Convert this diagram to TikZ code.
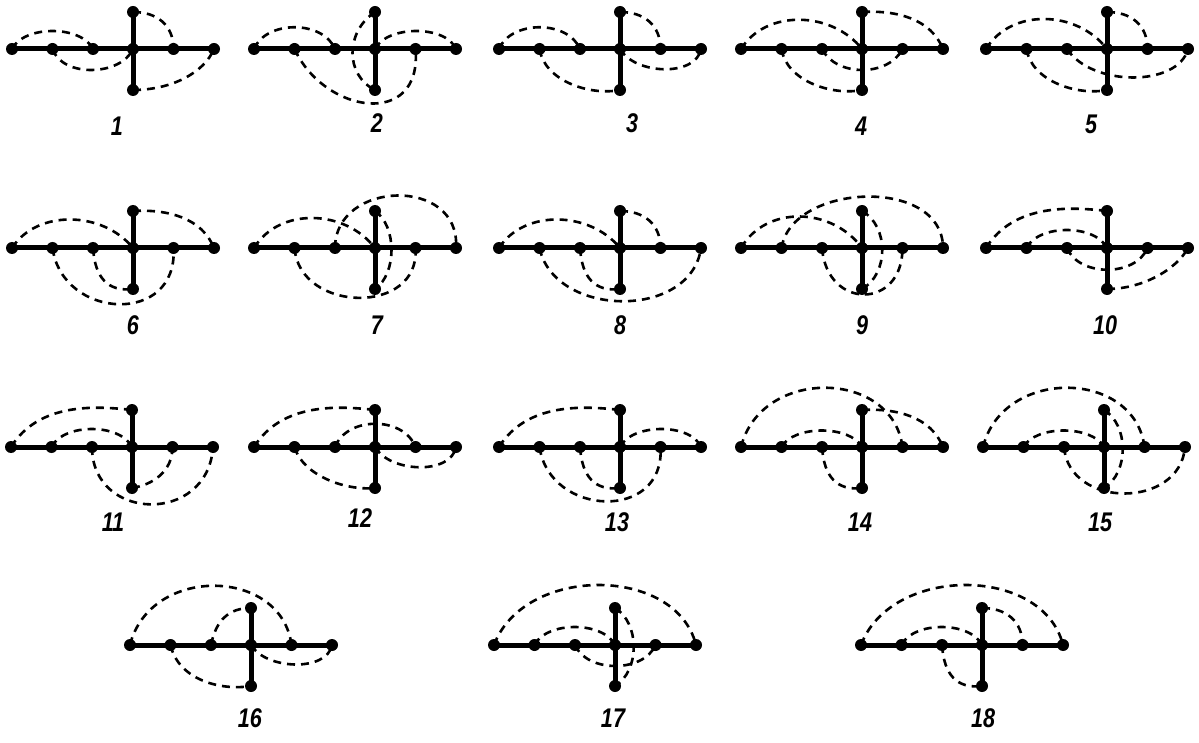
\documentclass[tikz,border=0pt]{standalone}
\usepackage{fontspec}
\newfontfamily\labfont[FakeStretch=0.8]{Liberation Sans}
\tikzset{
  tree/.style={line width=5pt},
  dsh/.style={line width=2.6pt, dash pattern=on 8pt off 6pt},
  dot/.style={circle, fill=black, inner sep=0pt, minimum size=12pt},
  lab/.style={font=\labfont\bfseries\itshape\fontsize{27}{27}\selectfont, inner sep=0pt},
}
\newcommand{\figpts}[3]{%
  \coordinate (A#1) at (#2-121,#3);
  \coordinate (B#1) at (#2-80.5,#3);
  \coordinate (C#1) at (#2-40,#3);
  \coordinate (O#1) at (#2,#3);
  \coordinate (D#1) at (#2+40.5,#3);
  \coordinate (E#1) at (#2+81,#3);
  \coordinate (T#1) at (#2,#3-37);
  \coordinate (U#1) at (#2,#3+41);
}
\newcommand{\figtree}[1]{%
  \draw[tree] (A#1) -- (E#1);
  \draw[tree] (T#1) -- (U#1);
  \foreach \v in {A,B,C,O,D,E,T,U}{\node[dot] (\v#1n) at (\v#1) {};}
}
\begin{document}
\begin{tikzpicture}[x=1pt,y=-1pt]
\useasboundingbox (0,0) rectangle (1199,743);
\fill[white] (0,0) rectangle (1199,743);
% ---------- positions
\figpts{1}{133}{49}
\figpts{2}{375}{49}
\figpts{3}{620}{49}
\figpts{4}{862}{49}
\figpts{5}{1107}{49}
\figpts{6}{133}{248}
\figpts{7}{375}{248}
\figpts{8}{620}{248}
\figpts{9}{862}{248}
\figpts{10}{1107}{248}
\figpts{11}{132}{447}
\figpts{12}{375}{447}
\figpts{13}{620}{447}
\figpts{14}{862}{447}
\figpts{15}{1104}{447}
\figpts{16}{251}{645}
\figpts{17}{615}{645}
\figpts{18}{982}{645}
% ---------- 1
\draw[dsh] (A1) .. controls +(12,-24) and +(-12,-24) .. (C1);
\draw[dsh] (B1) .. controls +(10,29) and +(-12,27) .. (O1);
\draw[dsh] (T1) .. controls +(24,0) and +(0,-24) .. (D1);
\draw[dsh] (U1) .. controls +(38,0) and +(-10,24) .. (E1);
% ---------- 2
\draw[dsh] (A2) .. controls +(12,-29) and +(-12,-29) .. (C2);
\draw[dsh] (B2) .. controls +(30,65) and +(7,80) .. (D2);
\draw[dsh] (T2) .. controls +(-30,20) and +(-30,-15) .. (U2);
\draw[dsh] (O2) .. controls +(12,-24) and +(-10,-24) .. (E2);
% ---------- 3
\draw[dsh] (A3) .. controls +(12,-29) and +(-12,-29) .. (C3);
\draw[dsh] (B3) .. controls +(5,32) and +(-30,6) .. (U3);
\draw[dsh] (T3) .. controls +(24,0) and +(0,-24) .. (D3);
\draw[dsh] (O3) .. controls +(15,26) and +(-5,28) .. (E3);
% ---------- 4
\draw[dsh] (A4) .. controls +(25,-40) and +(-30,-38) .. (O4);
\draw[dsh] (T4) .. controls +(35,-2) and +(-12,-30) .. (E4);
\draw[dsh] (B4) .. controls +(5,32) and +(-30,6) .. (U4);
\draw[dsh] (C4) .. controls +(14,28) and +(-14,28) .. (D4);
% ---------- 5
\draw[dsh] (A5) .. controls +(25,-41) and +(-30,-39) .. (O5);
\draw[dsh] (T5) .. controls +(24,0) and +(0,-24) .. (D5);
\draw[dsh] (B5) .. controls +(5,32) and +(-30,6) .. (U5);
\draw[dsh] (C5) .. controls +(25,38) and +(-10,38) .. (E5);
% ---------- 6
\draw[dsh] (A6) .. controls +(25,-39) and +(-30,-37) .. (O6);
\draw[dsh] (T6) .. controls +(35,-2) and +(-12,-30) .. (E6);
\draw[dsh] (B6) .. controls +(10,72) and +(5,78) .. (D6);
\draw[dsh] (C6) .. controls +(2,30) and +(-25,3) .. (U6);
% ---------- 7
\draw[dsh] (A7) .. controls +(25,-41) and +(-30,-39) .. (O7);
\draw[dsh] (C7) .. controls +(0,-68) and +(5,-72) .. (E7);
\draw[dsh] (T7) .. controls +(22,15) and +(22,-15) .. (U7);
\draw[dsh] (B7) .. controls +(5,65) and +(5,68) .. (D7);
% ---------- 8
\draw[dsh] (A8) .. controls +(25,-39) and +(-30,-37) .. (O8);
\draw[dsh] (T8) .. controls +(24,0) and +(0,-24) .. (D8);
\draw[dsh] (B8) .. controls +(15,70) and +(-10,72) .. (E8);
\draw[dsh] (C8) .. controls +(2,30) and +(-25,3) .. (U8);
% ---------- 9
\draw[dsh] (A9) .. controls +(25,-43) and +(-30,-41) .. (O9);
\draw[dsh] (B9) .. controls +(10,-65) and +(0,-72) .. (E9);
\draw[dsh] (T9) .. controls +(27,15) and +(27,-15) .. (U9);
\draw[dsh] (C9) .. controls +(5,62) and +(0,62) .. (D9);
% ---------- 10
\draw[dsh] (A10) .. controls +(28,-45) and +(-35,-4) .. (T10);
\draw[dsh] (B10) .. controls +(12,-24) and +(-12,-24) .. (O10);
\draw[dsh] (C10) .. controls +(12,29) and +(-12,29) .. (D10);
\draw[dsh] (U10) .. controls +(35,0) and +(-12,22) .. (E10);
% ---------- 11
\draw[dsh] (A11) .. controls +(28,-45) and +(-35,-4) .. (T11);
\draw[dsh] (B11) .. controls +(12,-24) and +(-12,-24) .. (O11);
\draw[dsh] (C11) .. controls +(0,75) and +(-5,78) .. (E11);
\draw[dsh] (U11) .. controls +(20,-3) and +(0,25) .. (D11);
% ---------- 12
\draw[dsh] (A12) .. controls +(28,-45) and +(-35,-4) .. (T12);
\draw[dsh] (C12) .. controls +(12,-31) and +(-12,-31) .. (D12);
\draw[dsh] (B12) .. controls +(8,28) and +(-30,3) .. (U12);
\draw[dsh] (O12) .. controls +(15,26) and +(-5,28) .. (E12);
% ---------- 13
\draw[dsh] (A13) .. controls +(28,-45) and +(-35,-4) .. (T13);
\draw[dsh] (B13) .. controls +(10,70) and +(5,75) .. (D13);
\draw[dsh] (C13) .. controls +(2,30) and +(-25,3) .. (U13);
\draw[dsh] (O13) .. controls +(12,-24) and +(-10,-24) .. (E13);
% ---------- 14
\draw[dsh] (A14) .. controls +(20,-80) and +(-10,-78) .. (D14);
\draw[dsh] (T14) .. controls +(35,-2) and +(-12,-30) .. (E14);
\draw[dsh] (B14) .. controls +(12,-22) and +(-12,-22) .. (O14);
\draw[dsh] (C14) .. controls +(2,30) and +(-25,3) .. (U14);
% ---------- 15
\draw[dsh] (A15) .. controls +(20,-80) and +(-10,-78) .. (D15);
\draw[dsh] (B15) .. controls +(12,-22) and +(-12,-22) .. (O15);
\draw[dsh] (C15) .. controls +(5,62) and +(-5,62) .. (E15);
\draw[dsh] (T15) .. controls +(25,15) and +(25,-15) .. (U15);
% ---------- 16
\draw[dsh] (A16) .. controls +(20,-80) and +(-10,-78) .. (D16);
\draw[dsh] (C16) .. controls +(5,-25) and +(-22,0) .. (T16);
\draw[dsh] (B16) .. controls +(8,35) and +(-30,5) .. (U16);
\draw[dsh] (O16) .. controls +(15,25) and +(-5,27) .. (E16);
% ---------- 17
\draw[dsh] (A17) .. controls +(30,-80) and +(-20,-80) .. (E17);
\draw[dsh] (B17) .. controls +(12,-24) and +(-12,-24) .. (O17);
\draw[dsh] (C17) .. controls +(12,28) and +(-12,28) .. (D17);
\draw[dsh] (T17) .. controls +(25,15) and +(25,-15) .. (U17);
% ---------- 18
\draw[dsh] (A18) .. controls +(30,-80) and +(-20,-80) .. (E18);
\draw[dsh] (B18) .. controls +(12,-24) and +(-12,-24) .. (O18);
\draw[dsh] (C18) .. controls +(2,30) and +(-25,3) .. (U18);
\draw[dsh] (T18) .. controls +(24,0) and +(0,-24) .. (D18);
% ---------- trees
\foreach \n in {1,...,18}{\figtree{\n}}
% ---------- labels
\node[lab] (L1) at (117,126) {1};
\node[lab] (L2) at (377,123) {2};
\node[lab] (L3) at (632,123) {3};
\node[lab] (L4) at (861,126) {4};
\node[lab] (L5) at (1091,124) {5};
\node[lab] (L6) at (133,325) {6};
\node[lab] (L7) at (377,325) {7};
\node[lab] (L8) at (620,325) {8};
\node[lab] (L9) at (862,325) {9};
\node[lab] (L10) at (1105,325) {10};
\node[lab] (L11) at (113,522) {11};
\node[lab] (L12) at (360,518) {12};
\node[lab] (L13) at (617,522) {13};
\node[lab] (L14) at (860,522) {14};
\node[lab] (L15) at (1100,522) {15};
\node[lab] (L16) at (250,718) {16};
\node[lab] (L17) at (613,718) {17};
\node[lab] (L18) at (983,718) {18};
\end{tikzpicture}
\end{document}
